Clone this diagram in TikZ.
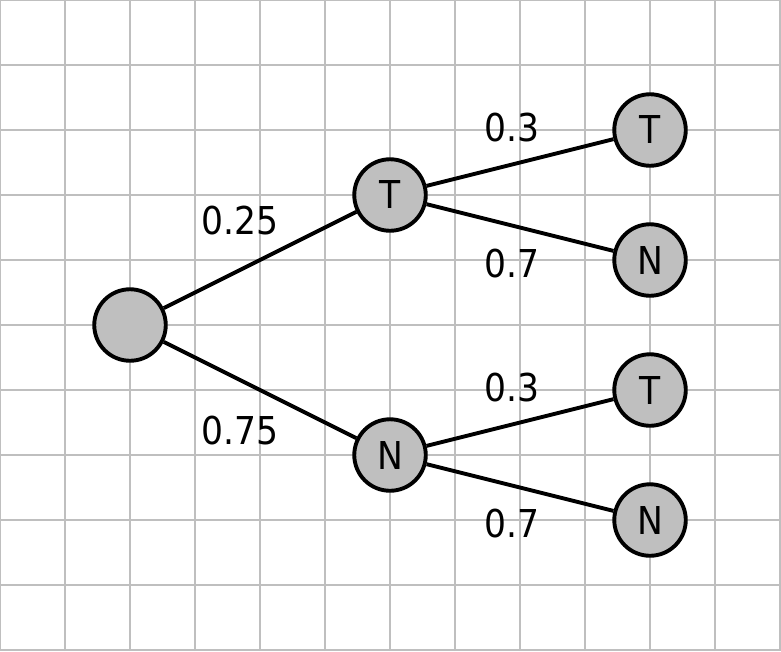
\documentclass[tikz,border=0pt]{standalone}
\usepackage{fontspec}
\setmainfont{DejaVu Sans Condensed}
\begin{document}
\begin{tikzpicture}[
  state/.style={circle,draw,line width=1.7pt,fill=black!25,minimum size=1.1cm,inner sep=0pt,font=\fontsize{16.8}{18}\selectfont},
  prob/.style={font=\fontsize{16.8}{18}\selectfont,inner sep=0pt},
  branch/.style={line width=1.7pt}]
  \useasboundingbox (0,-10.015) rectangle (12.015,0);
  \draw[black!25,line width=0.5pt] (0,-10.015) grid (12.015,0);
  \node[state] (root) at (2,-5) {};
  \node[state] (t) at (6,-3) {T};
  \node[state] (n) at (6,-7) {N};
  \node[state] (tt) at (10,-2) {T};
  \node[state] (tn) at (10,-4) {N};
  \node[state] (nt) at (10,-6) {T};
  \node[state] (nn) at (10,-8) {N};
  \draw[branch] (root)--(t);
  \draw[branch] (root)--(n);
  \draw[branch] (t)--(tt);
  \draw[branch] (t)--(tn);
  \draw[branch] (n)--(nt);
  \draw[branch] (n)--(nn);
  \node[prob] (pt) at (3.69,-3.40) {0.25};
  \node[prob] (pn) at (3.69,-6.63) {0.75};
  \node[prob] (ptt) at (7.87,-1.96) {0.3};
  \node[prob] (ptn) at (7.87,-4.05) {0.7};
  \node[prob] (pnt) at (7.87,-5.96) {0.3};
  \node[prob] (pnn) at (7.87,-8.05) {0.7};
\end{tikzpicture}
\end{document}
